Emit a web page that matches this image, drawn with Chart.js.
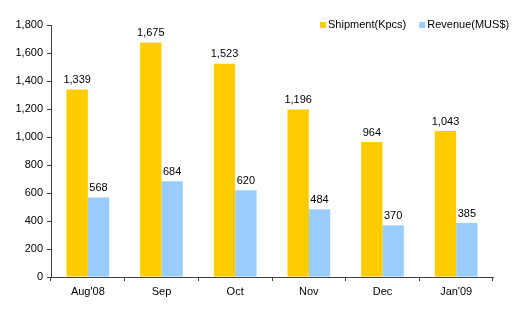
<!DOCTYPE html>
<html>
<head>
<meta charset="utf-8">
<script src="https://cdn.jsdelivr.net/npm/chart.js@4/dist/chart.umd.min.js"></script>
<style>
  html, body { margin: 0; padding: 0; background: #fff; }
  #wrap { width: 520px; height: 324px; }
</style>
</head>
<body>
<div id="wrap"><canvas id="chart" width="520" height="324"></canvas></div>
<script>
const categories = ["Aug'08", 'Sep', 'Oct', 'Nov', 'Dec', "Jan'09"];
const shipment = [1339, 1675, 1523, 1196, 964, 1043];
const revenue = [568, 684, 620, 484, 370, 385];
const yTicks = [0, 200, 400, 600, 800, 1000, 1200, 1400, 1600, 1800];

const FONT = { family: '"Liberation Sans", Arial, sans-serif', size: 11 };
const AXIS = '#404040';

// value labels above each bar
const barLabels = {
  id: 'barLabels',
  afterDatasetsDraw(chart) {
    const ctx = chart.ctx;
    ctx.save();
    ctx.font = '11px "Liberation Sans", Arial, sans-serif';
    ctx.fillStyle = '#000';
    ctx.textAlign = 'center';
    ctx.textBaseline = 'bottom';
    chart.data.datasets.forEach((ds, i) => {
      chart.getDatasetMeta(i).data.forEach((bar, j) => {
        ctx.fillText(ds.data[j].toLocaleString('en-US'), bar.x, bar.y - 4);
      });
    });
    ctx.restore();
  }
};

// small legend in the top-right corner
const cornerLegend = {
  id: 'cornerLegend',
  afterDraw(chart) {
    const ctx = chart.ctx;
    ctx.save();
    ctx.font = '11px "Liberation Sans", Arial, sans-serif';
    ctx.textBaseline = 'middle';
    const y = 25;
    let x = 320;
    chart.data.datasets.forEach(ds => {
      ctx.fillStyle = ds.backgroundColor;
      ctx.fillRect(x, y - 3, 6, 6);
      ctx.fillStyle = '#000';
      ctx.fillText(ds.label, x + 8, y);
      x += 8 + ctx.measureText(ds.label).width + 13;
    });
    ctx.restore();
  }
};

new Chart(document.getElementById('chart'), {
  type: 'bar',
  data: {
    labels: categories,
    datasets: [
      { label: 'Shipment(Kpcs)', data: shipment, backgroundColor: '#FFCC00' },
      { label: 'Revenue(MUS$)', data: revenue, backgroundColor: '#99CCFF' }
    ]
  },
  options: {
    responsive: false,
    animation: false,
    layout: { padding: { top: 25, right: 27, left: 0, bottom: 0 } },
    datasets: { bar: { categoryPercentage: 0.58, barPercentage: 1 } },
    plugins: {
      legend: { display: false },
      tooltip: { enabled: false }
    },
    scales: {
      x: {
        grid: { offset: true, drawOnChartArea: false, tickLength: 4, color: AXIS },
        border: { color: AXIS, width: 1 },
        ticks: { font: FONT, color: '#000', padding: 4 },
        afterFit(axis) { axis.height = 47; }
      },
      y: {
        min: 0,
        max: 1800,
        afterBuildTicks(axis) { axis.ticks = yTicks.map(v => ({ value: v })); },
        grid: { drawOnChartArea: false, tickLength: 4, color: AXIS },
        border: { color: AXIS, width: 1 },
        ticks: {
          font: FONT,
          color: '#000',
          padding: 4,
          callback: v => v.toLocaleString('en-US')
        },
        afterFit(axis) { axis.width = 51; }
      }
    }
  },
  plugins: [barLabels, cornerLegend]
});
</script>
</body>
</html>
